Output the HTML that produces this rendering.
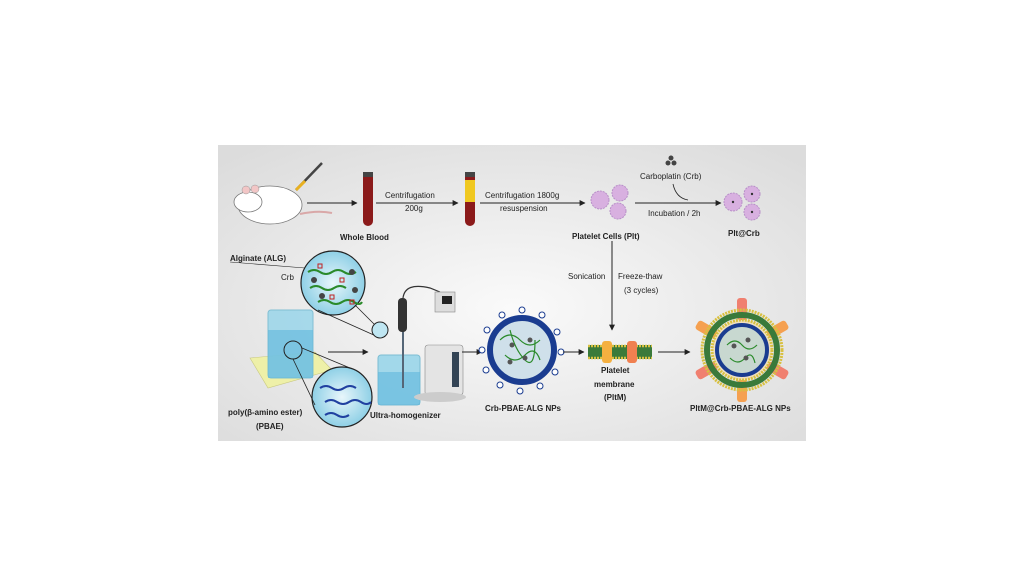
<!DOCTYPE html>
<html><head><meta charset="utf-8"><style>
html,body{margin:0;padding:0;background:#fff;width:1024px;height:587px;overflow:hidden}
svg{display:block}
text{font-family:"Liberation Sans",sans-serif;font-size:8px;fill:#222}
.b{font-weight:bold}
</style></head><body>
<svg width="1024" height="587" viewBox="0 0 1024 587">
<defs>
<radialGradient id="bg" cx="0.5" cy="0.55" r="0.7"><stop offset="0" stop-color="#fafafa"/><stop offset="1" stop-color="#dcdcdc"/></radialGradient>
<radialGradient id="cir" cx="0.5" cy="0.5" r="0.5"><stop offset="0" stop-color="#e8f6fb"/><stop offset="1" stop-color="#8fd0e6"/></radialGradient>
<marker id="ar" viewBox="0 0 10 10" refX="9" refY="5" markerWidth="6" markerHeight="6" orient="auto"><path d="M0,0L10,5L0,10z" fill="#222"/></marker>
</defs>
<rect x="218" y="145" width="588" height="296" fill="url(#bg)"/>
<!-- mouse -->
<ellipse cx="270" cy="205" rx="32" ry="19" fill="#fff" stroke="#777" stroke-width="0.8"/>
<ellipse cx="248" cy="202" rx="14" ry="10" fill="#fff" stroke="#777" stroke-width="0.8"/>
<circle cx="246" cy="190" r="4" fill="#f2c6c6" stroke="#999" stroke-width="0.5"/>
<circle cx="255" cy="189" r="4" fill="#f2c6c6" stroke="#999" stroke-width="0.5"/>
<path d="M300 214 Q318 210 332 213" stroke="#d9a8a8" stroke-width="2" fill="none"/>
<line x1="296" y1="190" x2="322" y2="163" stroke="#444" stroke-width="2.5"/>
<line x1="296" y1="190" x2="305" y2="181" stroke="#e8b020" stroke-width="3"/>
<!-- arrows top -->
<line x1="307" y1="203" x2="357" y2="203" stroke="#222" stroke-width="1" marker-end="url(#ar)"/>
<rect x="363" y="172" width="10" height="54" rx="5" fill="#8b1a1a"/>
<rect x="363" y="172" width="10" height="5" fill="#444"/>
<text x="340" y="240" class="b">Whole Blood</text>
<line x1="376" y1="203" x2="458" y2="203" stroke="#222" stroke-width="1" marker-end="url(#ar)"/>
<text x="385" y="198">Centrifugation</text><text x="405" y="211">200g</text>
<rect x="465" y="172" width="10" height="54" rx="5" fill="#8b1a1a"/>
<rect x="465" y="180" width="10" height="22" fill="#f0c820"/>
<rect x="465" y="172" width="10" height="5" fill="#444"/>
<line x1="480" y1="203" x2="585" y2="203" stroke="#222" stroke-width="1" marker-end="url(#ar)"/>
<text x="485" y="198">Centrifugation 1800g</text><text x="500" y="211">resuspension</text>
<!-- platelets -->
<g fill="#d8b0e0" stroke="#b890c8" stroke-width="1" stroke-dasharray="2 1">
<circle cx="600" cy="200" r="9"/><circle cx="620" cy="193" r="8"/><circle cx="618" cy="211" r="8"/>
</g>
<text x="572" y="239" class="b">Platelet Cells (Plt)</text>
<line x1="635" y1="203" x2="721" y2="203" stroke="#222" stroke-width="1" marker-end="url(#ar)"/>
<text x="640" y="179">Carboplatin (Crb)</text>
<circle cx="668" cy="163" r="2.5" fill="#444"/><circle cx="674" cy="163" r="2.5" fill="#444"/><circle cx="671" cy="158" r="2.5" fill="#444"/>
<path d="M673 184 Q676 198 688 200" stroke="#222" fill="none" stroke-width="0.8"/>
<text x="648" y="216">Incubation / 2h</text>
<g fill="#d8b0e0" stroke="#b890c8" stroke-width="1" stroke-dasharray="2 1">
<circle cx="733" cy="202" r="9"/><circle cx="752" cy="194" r="8"/><circle cx="752" cy="212" r="8"/>
</g>
<circle cx="733" cy="202" r="1.2" fill="#333"/><circle cx="752" cy="194" r="1.2" fill="#333"/><circle cx="752" cy="212" r="1.2" fill="#333"/>
<text x="728" y="236" class="b">Plt@Crb</text>
<!-- vertical -->
<line x1="612" y1="241" x2="612" y2="330" stroke="#222" stroke-width="1" marker-end="url(#ar)"/>
<text x="568" y="279">Sonication</text><text x="618" y="279">Freeze-thaw</text><text x="624" y="293">(3 cycles)</text>
<!-- left beaker -->
<path d="M250 358 L315 352 L332 370 L268 388 Z" fill="#eef0a8" stroke="#c8c880" stroke-width="0.6"/>
<rect x="268" y="310" width="45" height="68" rx="3" fill="#9ad6ea" opacity="0.85" stroke="#70b8d0"/>
<rect x="268" y="330" width="45" height="48" fill="#5fb8dc" opacity="0.6"/>
<circle cx="293" cy="350" r="9" fill="none" stroke="#222"/>
<text x="230" y="261" class="b">Alginate (ALG)</text><text x="281" y="280">Crb</text>
<circle cx="333" cy="283" r="32" fill="url(#cir)" stroke="#222" stroke-width="1.2"/>
<g stroke="#2a8a2a" stroke-width="2" fill="none">
<path d="M308 272 q6 -4 12 0 t12 0 t12 0 t12 0"/><path d="M310 288 q6 -4 12 0 t12 0 t12 0"/><path d="M318 302 q6 -4 12 0 t12 0 t12 0 t8 0"/>
</g>
<g fill="none" stroke="#c02020" stroke-width="1"><rect x="318" y="264" width="4" height="4"/><rect x="340" y="278" width="4" height="4"/><rect x="330" y="295" width="4" height="4"/><rect x="350" y="300" width="4" height="4"/></g>
<g fill="#444"><circle cx="314" cy="280" r="3"/><circle cx="352" cy="272" r="3"/><circle cx="355" cy="290" r="3"/><circle cx="322" cy="296" r="3"/></g>
<line x1="230" y1="262" x2="305" y2="268" stroke="#222" stroke-width="0.6"/>
<line x1="355" y1="305" x2="380" y2="330" stroke="#222" stroke-width="0.8"/>
<line x1="318" y1="310" x2="376" y2="336" stroke="#222" stroke-width="0.8"/>
<circle cx="380" cy="330" r="8" fill="#bfe6f2" stroke="#222"/>
<circle cx="342" cy="397" r="30" fill="url(#cir)" stroke="#222" stroke-width="1.2"/>
<g stroke="#2040a0" stroke-width="2" fill="none">
<path d="M320 388 q6 -4 12 0 t12 0 t12 0"/><path d="M325 402 q6 -4 12 0 t12 0 t12 0 t10 0"/><path d="M325 415 q6 -4 12 0 t12 0"/>
</g>
<line x1="293" y1="359" x2="315" y2="405" stroke="#222" stroke-width="0.8"/>
<line x1="302" y1="348" x2="350" y2="368" stroke="#222" stroke-width="0.8"/>
<text x="228" y="415" class="b">poly(β-amino ester)</text><text x="256" y="429" class="b">(PBAE)</text>
<line x1="328" y1="352" x2="368" y2="352" stroke="#222" stroke-width="1" marker-end="url(#ar)"/>
<!-- homogenizer -->
<rect x="378" y="355" width="42" height="50" rx="3" fill="#9ad6ea" opacity="0.9" stroke="#70b8d0"/>
<rect x="378" y="372" width="42" height="33" fill="#5fb8dc" opacity="0.6"/>
<line x1="403" y1="330" x2="403" y2="388" stroke="#567" stroke-width="2"/>
<rect x="398" y="298" width="9" height="34" rx="4" fill="#333"/>
<path d="M403 298 Q405 282 430 288 L440 292" stroke="#333" fill="none" stroke-width="1.2"/>
<rect x="435" y="292" width="20" height="20" fill="#ddd" stroke="#888" stroke-width="0.6"/>
<rect x="442" y="296" width="10" height="8" fill="#222"/>
<rect x="425" y="345" width="38" height="50" rx="3" fill="#e4e4e4" stroke="#888" stroke-width="0.6"/>
<rect x="452" y="352" width="7" height="35" fill="#345"/>
<ellipse cx="440" cy="397" rx="26" ry="5" fill="#ccc"/>
<text x="370" y="418" class="b">Ultra-homogenizer</text>
<line x1="462" y1="352" x2="482" y2="352" stroke="#222" stroke-width="1" marker-end="url(#ar)"/>
<!-- Crb NP -->
<circle cx="522" cy="350" r="32" fill="#cfe0ea" stroke="#1a3c90" stroke-width="6"/>
<g stroke="#2a8a2a" stroke-width="1.2" fill="none"><path d="M500 340 q10 -10 20 0 t20 0"/><path d="M505 355 q10 10 20 0 t15 5"/><path d="M510 330 q5 20 15 30 t10 -20"/></g>
<g fill="#555"><circle cx="512" cy="345" r="2.5"/><circle cx="530" cy="340" r="2.5"/><circle cx="525" cy="358" r="2.5"/><circle cx="510" cy="362" r="2.5"/></g>
<g fill="#fff" stroke="#1a3c90" stroke-width="1">
<circle cx="522" cy="310" r="3"/><circle cx="542" cy="315" r="3"/><circle cx="557" cy="332" r="3"/><circle cx="561" cy="352" r="3"/><circle cx="555" cy="372" r="3"/><circle cx="540" cy="386" r="3"/><circle cx="520" cy="391" r="3"/><circle cx="500" cy="385" r="3"/><circle cx="486" cy="370" r="3"/><circle cx="482" cy="350" r="3"/><circle cx="487" cy="330" r="3"/><circle cx="502" cy="315" r="3"/>
</g>
<text x="485" y="411" class="b">Crb-PBAE-ALG NPs</text>
<line x1="563" y1="352" x2="584" y2="352" stroke="#222" stroke-width="1" marker-end="url(#ar)"/>
<!-- membrane -->
<rect x="588" y="345" width="64" height="14" fill="#3a7a3a"/>
<line x1="588" y1="346" x2="652" y2="346" stroke="#d8c040" stroke-width="2.5" stroke-dasharray="2 1"/>
<line x1="588" y1="358" x2="652" y2="358" stroke="#d8c040" stroke-width="2.5" stroke-dasharray="2 1"/>
<rect x="602" y="341" width="10" height="22" rx="3" fill="#f5b040"/>
<rect x="627" y="341" width="10" height="22" rx="3" fill="#f08050"/>
<text x="601" y="373" class="b">Platelet</text><text x="594" y="387" class="b">membrane</text><text x="604" y="400" class="b">(PltM)</text>
<line x1="658" y1="352" x2="690" y2="352" stroke="#222" stroke-width="1" marker-end="url(#ar)"/>
<!-- final NP -->
<g transform="translate(742,350)">
<g fill="#f5a050"><rect x="-5" y="-52" width="10" height="22" rx="3" fill="#f08070"/><rect x="-5" y="30" width="10" height="22" rx="3"/>
<rect x="-5" y="-52" width="10" height="22" rx="3" transform="rotate(60)"/><rect x="-5" y="-52" width="10" height="22" rx="3" transform="rotate(120)" fill="#f08070"/>
<rect x="-5" y="-52" width="10" height="22" rx="3" transform="rotate(240)" fill="#f08070"/><rect x="-5" y="-52" width="10" height="22" rx="3" transform="rotate(300)"/></g>
<circle r="40" fill="none" stroke="#d8c040" stroke-width="3" stroke-dasharray="2 1"/>
<circle r="35" fill="none" stroke="#3a7a3a" stroke-width="6"/>
<circle r="30" fill="#f0e0c0" stroke="#d8c040" stroke-width="3" stroke-dasharray="2 1"/>
<circle r="25" fill="#c8d8d0" stroke="#1a3c90" stroke-width="4"/>
<g stroke="#2a8a2a" stroke-width="1.2" fill="none"><path d="M-15 -5 q8 -8 15 0 t15 0"/><path d="M-12 8 q8 8 15 0 t10 5"/></g>
<g fill="#555"><circle cx="-8" cy="-4" r="2.5"/><circle cx="6" cy="-10" r="2.5"/><circle cx="4" cy="8" r="2.5"/></g>
</g>
<text x="690" y="411" class="b">PltM@Crb-PBAE-ALG NPs</text>
</svg>
</body></html>
